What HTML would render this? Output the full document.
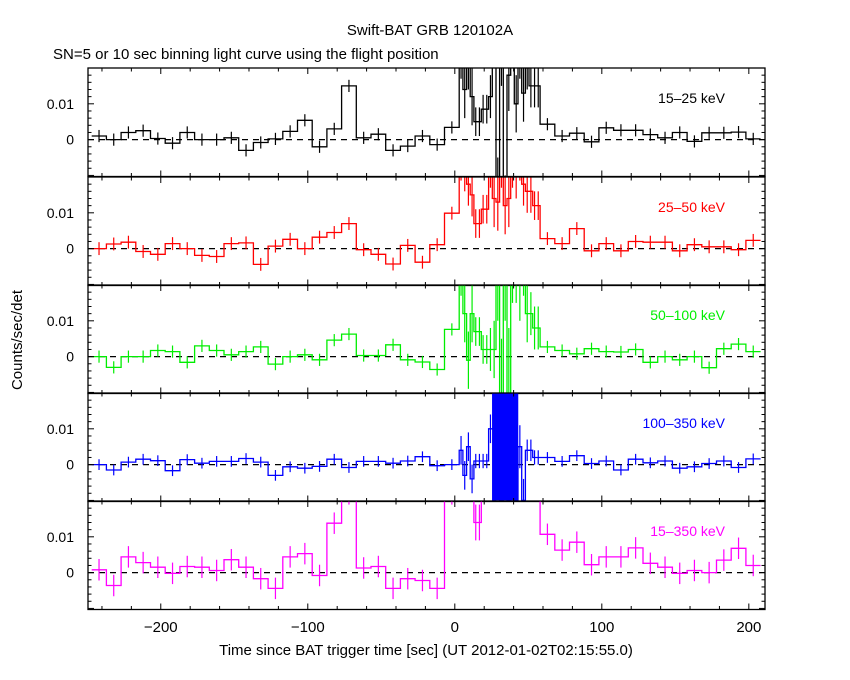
<!DOCTYPE html>
<html><head><meta charset="utf-8"><style>
html,body{margin:0;padding:0;background:#fff}
svg{display:block;font-family:"Liberation Sans",sans-serif}
</style></head><body>
<svg id="c" width="850" height="680" viewBox="0 0 850 680">
<text x="430" y="35" font-size="15" text-anchor="middle">Swift-BAT GRB 120102A</text>
<text x="53" y="59" font-size="15">SN=5 or 10 sec binning light curve using the flight position</text>
<text transform="translate(22,340) rotate(-90)" font-size="15" text-anchor="middle">Counts/sec/det</text>
<text x="426" y="655" font-size="15" text-anchor="middle">Time since BAT trigger time [sec] (UT 2012-01-02T02:15:55.0)</text>
<g id="plots"></g>
</svg>
<script>
const xTickLabels = [-200, -100, 0, 100, 200];
const bandNames = ["15-25 keV", "25-50 keV", "50-100 keV", "100-350 keV", "15-350 keV"];
const bandColors = ["#000000", "#ff0000", "#00ee00", "#0000ff", "#ff00ff"];
// pre-burst 10 s bins starting at -247 (values x 0.001)
const preBlack = [1,0,2,2.5,0.3,-1,2,0,0,0.5,-3,-0.8,0.2,2.3,5.4,-2,3,15,0.5,1.5,-3,-1.8,1,-1.4,3.4];
const preRed = [0,1.3,1.8,-0.8,-1.6,1.4,0,-1.9,-2.2,1.4,1.6,-4.4,0.7,2.6,0,3.2,4.5,7,-0.3,-1.6,-4.3,0.9,-3.8,1.1,9.9];
const preGreen = [0,-3,0,0,1.7,1.4,-1.6,3,1.7,0.5,1.4,2.7,-2.1,0,0.5,-0.9,4.6,6.3,0.3,0.3,3.3,-0.9,-1.5,-3.6,7.6];
const preBlue = [0,-1.5,0.7,1.5,1.1,-1.7,1.4,0.4,0.9,0.9,1.7,0.7,-3,-0.6,-1,-0.5,1.5,-0.8,0.9,0.9,0.4,1,2.2,-0.3,0];
const preMag = [0.8,-3.6,4.4,2.8,1.5,-0.2,1.7,1.5,0.6,3.6,1.5,-1.7,-4.4,4.4,5.3,-0.8,13.8,22,1.3,1.7,-4.4,-1.7,-2.2,-4.4,22];
// burst 2.5 s bins from 3 to 58
const burstBlack = [25,14,22,12,5,5,8.5,8.5,12,30,-15,25,-20,18,30,10,25,13,20,15,15,15];
const burstRed = [25,22,18,15,7,7,11,11,25,14,13,25,12,14,25,22,25,18,16,16,12,12];
const burstGreen = [25,12,-1,12,7,7,2,2,2,2,30,-15,30,-12,25,25,20,25,12,12,8,8];
const burstBlue = [4,-3,5,-4,1,1,1,1,10,10,30,-15,30,-15,30,-15,5,-10,4,4,2,2];
const burstMag = [30,30,30,30,14,14,30,30,30,30,30,30,30,30,30,30,30,30,30,30,30,30];
// per-bin burst errors (x 0.001)
const burstErrBlack = [8,8,8,8,4,4,4,4,6,10,10,10,10,10,10,8,8,8,6,6,6,6];
const burstErrRed = [6,6,6,6,4,4,4,4,8,8,8,8,8,8,8,8,6,6,6,6,4,4];
const burstErrGreen = [8,8,8,8,4,4,4,4,6,8,20,20,20,20,10,10,10,8,8,6,6,6];
const burstErrBlue = [4,4,4,4,2,2,2,2,4,40,40,40,40,40,40,40,6,6,3,3,2,2];
const burstErrMag = [8,8,8,8,5,5,8,8,8,8,8,8,8,8,8,8,8,8,8,8,8,8];
// post-burst 10 s bins from 58
const postBlack = [4.3,1,1.8,-0.6,3.3,2.6,2.6,1.4,0.5,2,-0.5,1.9,1.9,2.1,0.2];
const postRed = [2.8,1.4,5.6,-0.6,1.4,-0.6,2,1.8,1.8,-0.6,1.1,0.5,0.5,-0.3,2.3];
const postGreen = [2.7,1.7,0.8,2.2,1.4,1.3,2,-1.6,0,-0.9,0,-3.1,2.2,3.5,1.4];
const postBlue = [2,0.9,2.5,0.3,1,-1.5,1.5,0.5,1,-1,-0.6,0.3,1,-0.8,1.6];
const postMag = [10.7,6.3,8.5,2.2,4.4,4.4,6.9,2.6,1.5,-0.2,0.6,0,3.5,6.8,2];
const errPre = [1.7,1.8,1.7,1.5,3];

const pre = [preBlack, preRed, preGreen, preBlue, preMag];
const burst = [burstBlack, burstRed, burstGreen, burstBlue, burstMag];
const burstErr = [burstErrBlack, burstErrRed, burstErrGreen, burstErrBlue, burstErrMag];
const post = [postBlack, postRed, postGreen, postBlue, postMag];

const NS = "http://www.w3.org/2000/svg";
const X0 = 88, X1 = 765, TMIN = -249.5, TMAX = 211;
const panelTops = [68, 177, 285, 393, 501];
const PH = 108.5, VMAX = 0.02, VMIN = -0.0103;
function xs(t){ return X0 + (t - TMIN) / (TMAX - TMIN) * (X1 - X0); }
function mk(tag, attrs, parent){ const e = document.createElementNS(NS, tag); for (const k in attrs) e.setAttribute(k, attrs[k]); parent.appendChild(e); return e; }
const root = document.getElementById("plots");

for (let p = 0; p < 5; p++) {
  const top = panelTops[p];
  const ys = v => top + (VMAX - v * 0.001) / (VMAX - VMIN) * PH;
  const g = mk("g", {}, root);
  
  
  const cp = mk("clipPath", {id: "cp" + p}, g);
  mk("rect", {x: X0, y: top, width: X1 - X0, height: PH}, cp);
  const bins = [];
  pre[p].forEach((v, i) => bins.push([-247 + 10 * i, -237 + 10 * i, v, errPre[p]]));
  burst[p].forEach((v, i) => bins.push([3 + 2.5 * i, 5.5 + 2.5 * i, v, burstErr[p][i]]));
  post[p].forEach((v, i) => bins.push([58 + 10 * i, 68 + 10 * i, v, errPre[p]]));
  const dg = mk("g", {"clip-path": "url(#cp" + p + ")"}, g);
  const zl = mk("line", {x1: X0, x2: X1, y1: ys(0), y2: ys(0), stroke: "#000", "stroke-width": 1.2, "stroke-dasharray": "6,5"}, dg);
  
  
  let d = "";
  bins.forEach((b, i) => {
    const xa = xs(b[0]), xb = xs(b[1]), y = ys(b[2]);
    d += (i === 0 ? "M" : "L") + xa.toFixed(1) + "," + y.toFixed(1) + "L" + xb.toFixed(1) + "," + y.toFixed(1);
  });
  const path = mk("path", {d: d, fill: "none", stroke: bandColors[p], "stroke-width": 1.3}, dg);
  
  
  bins.forEach(b => {
    const xm = xs((b[0] + b[1]) / 2);
    const w = b[3] >= 30 ? (xs(b[1]) - xs(b[0]) + 0.5) : 1.2;
    const el = mk("line", {x1: xm, x2: xm, y1: ys(b[2] - b[3]), y2: ys(b[2] + b[3]), stroke: bandColors[p], "stroke-width": w}, dg);
    
    
  });
  const fr = mk("rect", {x: X0, y: top, width: X1 - X0, height: PH, fill: "none", stroke: "#000", "stroke-width": 1.3}, g);
  
  
  for (let t = -240; t <= 200; t += 20) {
    const x = xs(t), L = (t % 100 === 0) ? 6 : 3.5;
    mk("line", {x1: x, x2: x, y1: top, y2: top + L, stroke: "#000"}, g);
    mk("line", {x1: x, x2: x, y1: top + PH, y2: top + PH - L, stroke: "#000"}, g);
  }
  for (let v = -10; v <= 20; v += 2) {
    const y = ys(v), L = (v % 10 === 0) ? 6 : 3.5;
    mk("line", {x1: X0, x2: X0 + L, y1: y, y2: y, stroke: "#000"}, g);
    mk("line", {x1: X1, x2: X1 - L, y1: y, y2: y, stroke: "#000"}, g);
  }
  [[10, "0.01"], [0, "0"]].forEach(a => {
    const tl = mk("text", {x: 74, y: ys(a[0]) + 5, "font-size": 14, "text-anchor": "end"}, g);
    tl.textContent = a[1];
    
    
  });
  const lab = mk("text", {x: 725, y: top + 35, "font-size": 14, "text-anchor": "end", fill: bandColors[p]}, g);
  lab.textContent = bandNames[p].replace("-", "\u2013");
  
  
}
xTickLabels.forEach(t => {
  const tl = mk("text", {x: xs(t), y: 632, "font-size": 15, "text-anchor": "middle"}, root);
  tl.textContent = t < 0 ? "\u2212" + (-t) : String(t);
  
  
});
</script>
</body></html>
